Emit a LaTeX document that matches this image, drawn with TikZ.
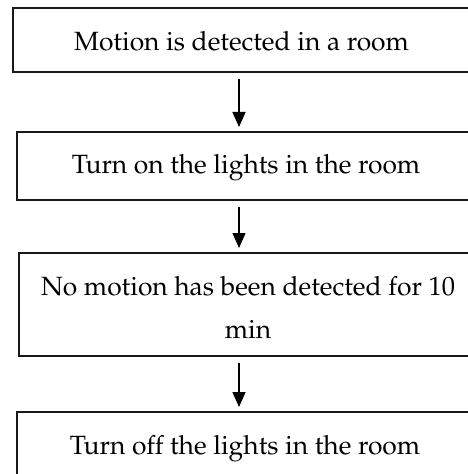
\documentclass[tikz,border=0pt]{standalone}
\usepackage[T1]{fontenc}
\renewcommand{\rmdefault}{ppl}
\usetikzlibrary{arrows.meta}
\begin{document}
\begin{tikzpicture}[x=1bp,y=-1bp,
  box/.style={draw=black!90, line width=1.6bp, anchor=north west, inner sep=0pt},
  txt/.style={anchor=base, inner sep=0pt, align=center, font=\fontsize{26.5}{43}\selectfont},
  arr/.style={line width=1.4bp, -{Triangle[width=13bp,length=15bp]}, shorten <=6bp, shorten >=4bp}]
\useasboundingbox (0,0) rectangle (468,474);
\clip (0,0) rectangle (468,474);
\node[box, minimum width=459bp, minimum height=64bp] (b1) at (12,7) {};
\node[box, minimum width=460bp, minimum height=68bp] (b2) at (16,131) {};
\node[box, minimum width=460bp, minimum height=103bp] (b3) at (18,252) {};
\node[box, minimum width=458bp, minimum height=90bp] (b4) at (16,411) {};
\node[txt] (t1) at (241.5,51) {Motion is detected in a room};
\node[txt] (t2) at (246,174) {Turn on the lights in the room};
\node[txt] (t3) at (248,338) {No motion has been detected for 10\\min};
\node[txt] (t4) at (245,454) {Turn off the lights in the room};
\coordinate (ax) at (239,0);
\draw[arr] (b1.south -| ax) -- (b2.north -| ax);
\draw[arr] (b2.south -| ax) -- (b3.north -| ax);
\draw[arr] (b3.south -| ax) -- (b4.north -| ax);
\end{tikzpicture}
\end{document}
